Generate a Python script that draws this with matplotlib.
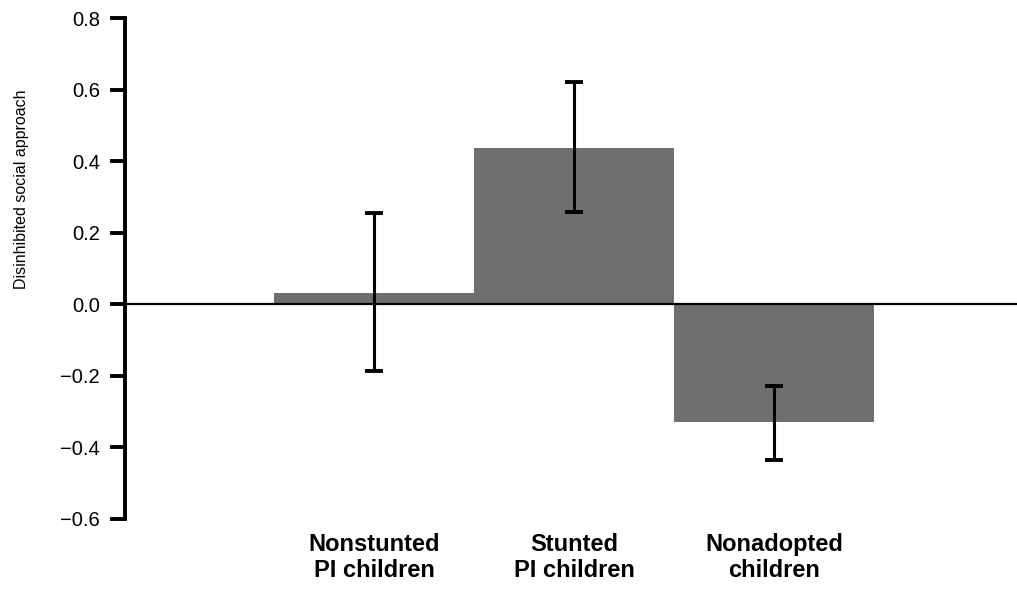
import numpy as np
import matplotlib
matplotlib.use("Agg")
import matplotlib.pyplot as plt

plt.rcParams['font.family'] = ['Liberation Sans', 'DejaVu Sans']

# Datos
categories = ['Nonstunted\nPI children', 'Stunted\nPI children', 'Nonadopted\nchildren']
means = [0.031, 0.438, -0.328]
err_low = [-0.187, 0.257, -0.434]
err_high = [0.256, 0.620, -0.227]
y_ticks = [-0.6, -0.4, -0.2, 0.0, 0.2, 0.4, 0.6, 0.8]

means = np.array(means)
yerr = np.array([means - np.array(err_low), np.array(err_high) - means])
x = np.arange(len(categories))

fig = plt.figure(figsize=(10.17, 5.89), dpi=100)
ax = fig.add_axes([125 / 1017, 70 / 589, 892 / 1017, 501 / 589])

ax.bar(x, means, width=1.0, color='#6f6f6f', zorder=2)
ax.axhline(0, color='black', lw=1.6, zorder=3)
ax.errorbar(x, means, yerr=yerr, fmt='none', ecolor='black', elinewidth=2.2,
            capsize=6.5, capthick=2.8, zorder=4)

ax.set_xlim(-1.245, 3.215)
ax.set_ylim(-0.6, 0.8)
ax.set_yticks(y_ticks)
ax.set_yticklabels([f'{t:.1f}'.replace('-', '\u2212') for t in y_ticks], fontsize=14.5)
ax.set_xticks(x)
ax.set_xticklabels(categories, fontsize=17, fontweight='bold', linespacing=1.15)
ax.tick_params(axis='x', length=0, pad=10)
ax.tick_params(axis='y', direction='out', length=11, width=2.8, pad=7)

for side in ['top', 'right', 'bottom']:
    ax.spines[side].set_visible(False)
ax.spines['left'].set_linewidth(2.8)

fig.text(22 / 1017, 1 - 189 / 589, 'Disinhibited social approach', rotation=90,
         ha='center', va='center', fontsize=11.5)

fig.savefig('out.png', dpi=100)
